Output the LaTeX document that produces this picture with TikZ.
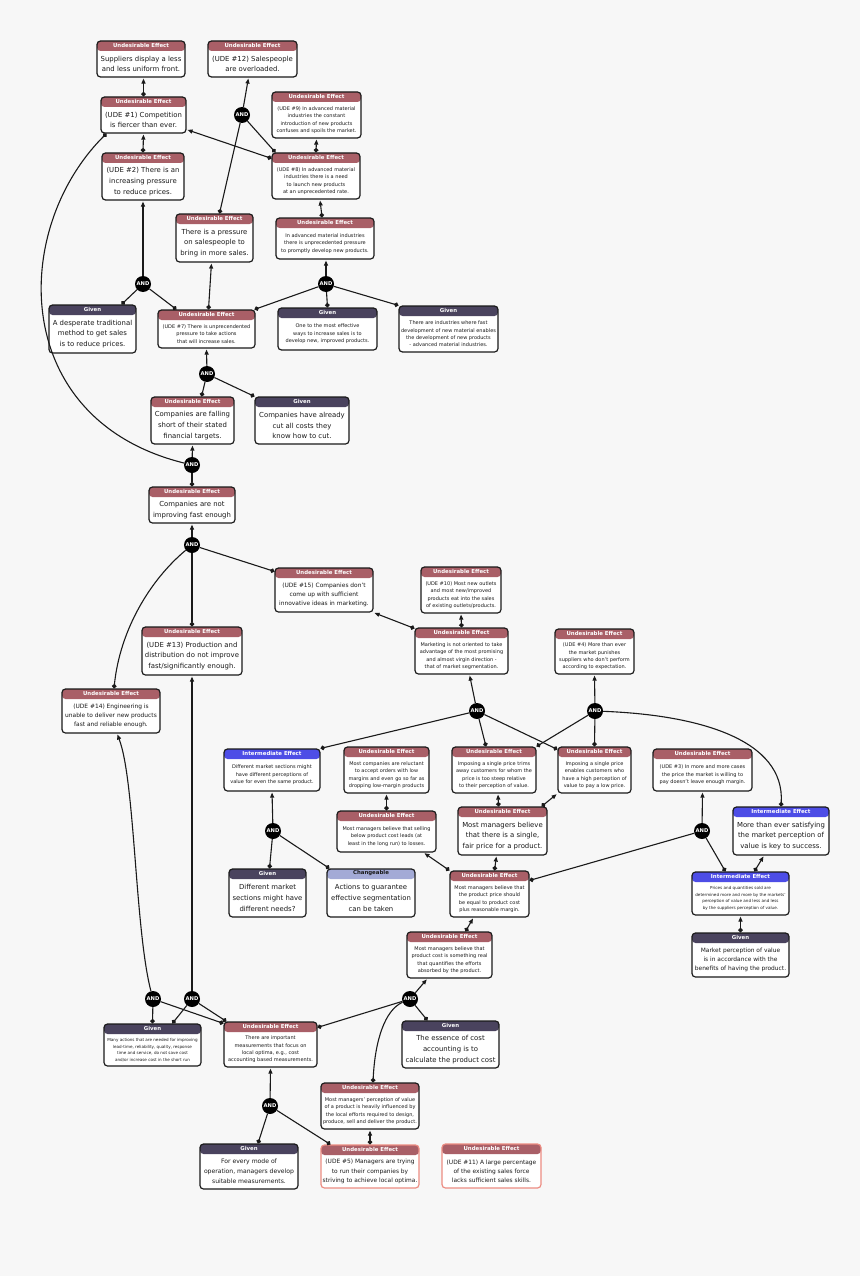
\documentclass[tikz,border=0pt]{standalone}
\usepackage{fontspec}
\setmainfont{DejaVu Sans}
\usetikzlibrary{arrows.meta,calc}
\definecolor{bg}{HTML}{F7F7F7}
\definecolor{udec}{HTML}{A95F67}
\definecolor{givc}{HTML}{4A435E}
\definecolor{intc}{HTML}{4D4DE6}
\definecolor{chgc}{HTML}{A3AAD6}
\definecolor{pinkc}{HTML}{EC8C82}
\definecolor{ink}{HTML}{1A1A1A}
\def\hdude{Undesirable Effect}
\def\hdudep{Undesirable Effect}
\def\hdgiven{Given}
\def\hdinter{Intermediate Effect}
\def\hdchg{Changeable}
\tikzset{
  box/.style={draw=ink, line width=1.2pt, rounded corners=3.5pt, fill=white, inner sep=0pt},
  hband/.style={path picture={\fill[#1] ([yshift=2pt]path picture bounding box.north west) rectangle ([yshift=-10pt]path picture bounding box.north east);}},
  ude/.style={hband=udec},
  udep/.style={hband=udec, draw=pinkc},
  given/.style={hband=givc},
  inter/.style={hband=intc},
  chg/.style={hband=chgc},
  hdr/.style={inner sep=0pt, font=\fontsize{5.4}{6}\selectfont\bfseries, text=white},
  udehdr/.style={hdr}, udephdr/.style={hdr}, givenhdr/.style={hdr}, interhdr/.style={hdr},
  chghdr/.style={hdr, text=ink},
  bodyt/.style={inner sep=0pt, align=center, text=ink},
  fbig/.style={bodyt, font=\fontsize{6.9}{10.7}\selectfont},
  fmedw/.style={bodyt, font=\fontsize{6.1}{10.2}\selectfont},
  fmed/.style={bodyt, font=\fontsize{5.9}{9.2}\selectfont},
  fsml/.style={bodyt, font=\fontsize{5}{7.4}\selectfont},
  ftny/.style={bodyt, font=\fontsize{4.1}{6.6}\selectfont},
  andn/.style={circle, fill=black, minimum size=16pt, inner sep=0pt, text=white, font=\fontsize{5.2}{6}\selectfont\bfseries},
  dotarr/.style={draw=ink, line width=1.1pt, shorten >=1pt, {Circle[length=4.5pt]}-{Triangle[length=5pt,width=4pt]}},
  inl/.style={draw=ink, line width=1.1pt, {Circle[length=4.5pt]}-},
  outl/.style={draw=ink, line width=1.1pt, shorten >=1pt, -{Triangle[length=5pt,width=4pt]}}
}
\newcommand\bx[8]{%
  \node[box,#2,minimum width={#5-#3},minimum height={#6-#4}] (#1) at ({(#3+#5)/2},{(#4+#6)/2}) {};
  \node[#2hdr] (#1h) at ([yshift=-5pt]#1.north) {\csname hd#2\endcsname};
  \node[#7] (#1b) at ($(#1.south)!0.5!([yshift=-10pt]#1.north)$) {#8};
}
\begin{document}
\begin{tikzpicture}[x=1pt,y=-1pt]
\fill[bg] (0,0) rectangle (860,1276);

\bx{n1}{ude}{97}{41}{185}{77}{fbig}{Suppliers display a less\\and less uniform front.}
\bx{n2}{ude}{208}{41}{297}{77}{fbig}{(UDE \#12) Salespeople\\are overloaded.}
\bx{n3}{ude}{101}{97}{186}{133}{fbig}{(UDE \#1) Competition\\is fiercer than ever.}
\bx{n4}{ude}{272}{92}{361}{138}{fsml}{(UDE \#9) In advanced material\\industries the constant\\introduction of new products\\confuses and spoils the market.}
\bx{n5}{ude}{272}{153}{360}{199}{fsml}{(UDE \#8) In advanced material\\industries there is a need\\to launch new products\\at an unprecedented rate.}
\bx{n6}{ude}{102}{153}{184}{200}{fbig}{(UDE \#2) There is an\\increasing pressure\\to reduce prices.}
\bx{n7}{ude}{176}{214}{253}{262}{fbig}{There is a pressure\\on salespeople to\\bring in more sales.}
\bx{n8}{ude}{276}{218}{374}{259}{fsml}{In advanced material industries\\there is unprecedented pressure\\to promptly develop new products.}
\bx{n9}{given}{49}{305}{136}{353}{fbig}{A desperate traditional\\method to get sales\\is to reduce prices.}
\bx{n10}{ude}{158}{310}{255}{348}{fsml}{(UDE \#7) There is unprecendented\\pressure to take actions\\that will increase sales.}
\bx{n11}{given}{278}{308}{377}{350}{fsml}{One to the most effective\\ways to increase sales is to\\develop new, improved products.}
\bx{n12}{given}{399}{306}{498}{352}{fsml}{There are industries where fast\\development of new material enables\\the development of new products\\- advanced material industries.}
\bx{n13}{ude}{151}{397}{234}{444}{fbig}{Companies are falling\\short of their stated\\financial targets.}
\bx{n14}{given}{255}{397}{349}{444}{fbig}{Companies have already\\cut all costs they\\know how to cut.}
\bx{n15}{ude}{149}{487}{235}{523}{fbig}{Companies are not\\improving fast enough}
\bx{n16}{ude}{275}{568}{373}{612}{fmed}{(UDE \#15) Companies don't\\come up with sufficient\\innovative ideas in marketing.}
\bx{n17}{ude}{421}{567}{501}{613}{fsml}{(UDE \#10) Most new outlets\\and most new/improved\\products eat into the sales\\of existing outlets/products.}
\bx{n18}{ude}{415}{628}{508}{674}{fsml}{Marketing is not oriented to take\\advantage of the most promising\\and almost virgin direction -\\that of market segmentation.}
\bx{n19}{ude}{555}{629}{634}{674}{fsml}{(UDE \#4) More than ever\\the market punishes\\suppliers who don't perform\\according to expectation.}
\bx{n20}{ude}{142}{627}{242}{675}{fbig}{(UDE \#13) Production and\\distribution do not improve\\fast/significantly enough.}
\bx{n21}{ude}{62}{689}{160}{733}{fmed}{(UDE \#14) Engineering is\\unable to deliver new products\\fast and reliable enough.}
\bx{n22}{inter}{224}{749}{320}{791}{fsml}{Different market sections might\\have different perceptions of\\value for even the same product.}
\bx{n23}{ude}{344}{747}{429}{793}{fsml}{Most companies are reluctant\\to accept orders with low\\margins and even go so far as\\dropping low-margin products}
\bx{n24}{ude}{452}{747}{536}{793}{fsml}{Imposing a single price trims\\away customers for whom the\\price is too steep relative\\to their perception of value.}
\bx{n25}{ude}{558}{747}{631}{793}{fsml}{Imposing a single price\\enables customers who\\have a high perception of\\value to pay a low price.}
\bx{n26}{ude}{653}{749}{752}{791}{fsml}{(UDE \#3) In more and more cases\\the price the market is willing to\\pay doesn't leave enough margin.}
\bx{n27}{inter}{733}{807}{829}{855}{fbig}{More than ever satisfying\\the market perception of\\value is key to success.}
\bx{n28}{ude}{337}{811}{436}{852}{fsml}{Most managers believe that selling\\below product cost leads (at\\least in the long run) to losses.}
\bx{n29}{ude}{458}{807}{547}{855}{fbig}{Most managers believe\\that there is a single,\\fair price for a product.}
\bx{n30}{given}{229}{869}{306}{917}{fbig}{Different market\\sections might have\\different needs?}
\bx{n31}{chg}{327}{869}{415}{917}{fbig}{Actions to guarantee\\effective segmentation\\can be taken}
\bx{n32}{ude}{450}{871}{529}{917}{fsml}{Most managers believe that\\the product price should\\be equal to product cost\\plus reasonable margin.}
\bx{n33}{inter}{692}{872}{789}{915}{ftny}{Prices and quantities sold are\\determined more and more by the markets'\\perception of value and less and less\\by the suppliers perception of value.}
\bx{n34}{ude}{407}{932}{492}{978}{fsml}{Most managers believe that\\product cost is something real\\that quantifies the efforts\\absorbed by the product.}
\bx{n35}{given}{692}{933}{789}{977}{fmed}{Market perception of value\\is in accordance with the\\benefits of having the product.}
\bx{n36}{given}{104}{1024}{201}{1066}{ftny}{Many actions that are needed for improving\\lead-time, reliability, quality, response\\time and service, do not save cost\\and/or increase cost in the short run}
\bx{n37}{ude}{224}{1022}{317}{1067}{fsml}{There are important\\measurements that focus on\\local optima, e.g., cost\\accounting based measurements.}
\bx{n38}{given}{402}{1021}{499}{1068}{fbig}{The essence of cost\\accounting is to\\calculate the product cost}
\bx{n39}{ude}{321}{1083}{419}{1129}{fsml}{Most managers' perception of value\\of a product is heavily influenced by\\the local efforts required to design,\\produce, sell and deliver the product.}
\bx{n40}{given}{200}{1144}{298}{1189}{fmedw}{For every mode of\\operation, managers develop\\suitable measurements.}
\bx{n41}{udep}{321}{1145}{419}{1188}{fmed}{(UDE \#5) Managers are trying\\to run their companies by\\striving to achieve local optima.}
\bx{n42}{udep}{442}{1144}{541}{1188}{fmed}{(UDE \#11) A large percentage\\of the existing sales force\\lacks sufficient sales skills.}

\node[andn] (a1) at (242,115) {AND};
\node[andn] (a2) at (143,284) {AND};
\node[andn] (a3) at (326,284) {AND};
\node[andn] (a4) at (207,374) {AND};
\node[andn] (a5) at (192,465) {AND};
\node[andn] (a6) at (192,545) {AND};
\node[andn] (a7) at (477,711) {AND};
\node[andn] (a8) at (595,711) {AND};
\node[andn] (a9) at (273,831) {AND};
\node[andn] (a10) at (702,831) {AND};
\node[andn] (a11) at (410,999) {AND};
\node[andn] (a12) at (153,999) {AND};
\node[andn] (a13) at (192,999) {AND};
\node[andn] (a14) at (270,1106) {AND};

\draw[dotarr] (n3.north) -- (n3.north |- n1.south);
\draw[dotarr] (n6.north) -- (n3.south);
\draw[outl] (a1) -- ([xshift=-4pt]n2.south);
\draw[inl] ([xshift=5pt]n7.north) -- (a1);
\draw[inl] ([xshift=4pt]n5.north west) -- (a1);
\draw[dotarr] ([yshift=-6pt]n5.north west) -- ([yshift=4pt]n3.south east);
\draw[dotarr] (n5.north) -- (n4.south);
\draw[dotarr] ([xshift=-3pt]n8.north) -- ([xshift=4pt]n5.south);
\draw[outl] (a2) -- (a2 |- n6.south);
\draw[inl] ([xshift=29pt]n9.north) -- (a2);
\draw[inl] ([xshift=19pt]n10.north west) -- (a2);
\draw[dotarr] ([xshift=2pt]n10.north) -- ([xshift=-3pt]n7.south);
\draw[outl] (a3) -- (a3 |- n8.south);
\draw[inl] ([xshift=-1pt]n10.north east) -- (a3);
\draw[inl] (n11.north) -- (a3);
\draw[inl] (n12.north west) -- (a3);
\draw[outl] (a4) -- (n10.south);
\draw[inl] ([xshift=9pt]n13.north) -- (a4);
\draw[inl] (n14.north west) -- (a4);
\draw[outl] (a5) -- (n13.south);
\draw[inl] (n15.north) -- (a5);
\draw[inl] ([xshift=6pt]n3.south west) .. controls (10,230) and (10,420) .. (a5);
\draw[outl] (a6) -- (n15.south);
\draw[inl] ([yshift=-4pt]n16.north west) -- (a6);
\draw[inl] (n20.north) -- (a6);
\draw[inl] ([xshift=3pt]n21.north) .. controls (120,630) and (150,580) .. (a6);
\draw[dotarr] ([yshift=-1pt]n18.north west) -- (n16.south east);
\draw[dotarr] (n18.north) -- (n17.south);
\draw[outl] (a7) -- ([xshift=8pt]n18.south);
\draw[inl] (n22.north east) -- (a7);
\draw[inl] ([xshift=-8pt]n24.north) -- (a7);
\draw[inl] ([yshift=-3pt]n25.north west) -- (a7);
\draw[outl] (a8) -- (n19.south);
\draw[inl] (n24.north east) -- (a8);
\draw[inl] (n25.north) -- (a8);
\draw[inl] (n27.north) .. controls (785,740) and (700,715) .. (a8);
\draw[outl] (a9) -- (n22.south);
\draw[inl] ([xshift=2pt]n30.north) -- (a9);
\draw[inl] ([xshift=3pt]n31.north west) -- (a9);
\draw[dotarr] (n28.north) -- (n23.south);
\draw[dotarr] ([xshift=-4pt]n29.north) -- ([xshift=4pt]n24.south);
\draw[dotarr] ([xshift=-6pt]n29.north east) -- (n25.south west);
\draw[dotarr] ([xshift=5pt]n32.north) -- ([xshift=-6pt]n29.south);
\draw[dotarr] (n32.north west) -- ([xshift=-13pt]n28.south east);
\draw[inl] ([yshift=-10pt]n32.north east) -- (a10);
\draw[outl] (a10) -- (n26.south);
\draw[inl] ([xshift=34pt]n33.north west) -- (a10);
\draw[dotarr] ([xshift=63pt]n33.north west) -- ([xshift=-17pt]n27.south);
\draw[dotarr] (n35.north) -- (n33.south);
\draw[dotarr] ([xshift=16pt]n34.north) -- ([xshift=-16pt]n32.south);
\draw[outl] (a11) -- ([xshift=21pt]n34.south west);
\draw[inl] ([yshift=-6pt]n37.north east) -- (a11);
\draw[inl] ([xshift=26pt]n38.north west) -- (a11);
\draw[inl] ([xshift=3pt]n39.north) .. controls (375,1040) and (385,1010) .. (a11);
\draw[dotarr] (n41.north) -- (n39.south);
\draw[outl] (a14) -- (n37.south);
\draw[inl] ([xshift=9pt]n40.north) -- (a14);
\draw[inl] ([xshift=10pt]n41.north west) -- (a14);
\draw[outl] (a12) .. controls (135,930) and (135,780) .. ([xshift=6pt]n21.south);
\draw[inl] (n36.north) -- (a12);
\draw[inl] ([yshift=-2pt]n37.north west) -- (a12);
\draw[outl] (a13) -- (a13 |- n20.south);
\draw[inl] ([xshift=69pt]n36.north west) -- (a13);
\draw[inl] ([xshift=3pt]n37.north west) -- (a13);
\end{tikzpicture}
\end{document}
